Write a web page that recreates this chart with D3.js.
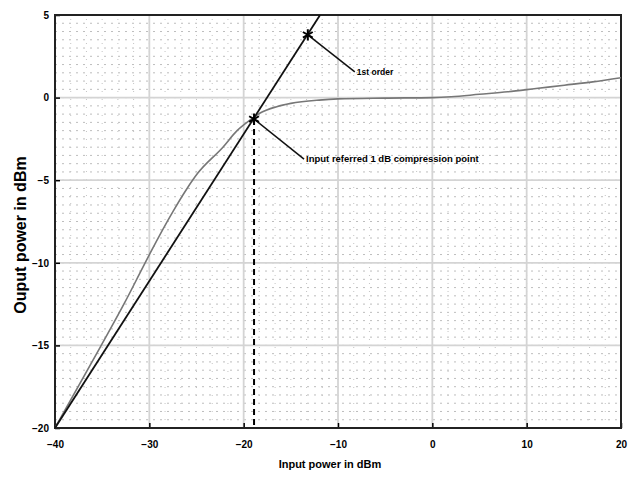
<!DOCTYPE html>
<html lang="en">
<head>
  <meta charset="UTF-8"/>
  <title>1 dB compression point</title>
  <script src="https://d3js.org/d3.v7.min.js"></script>
  <style>
    body { margin: 0; background: #fff; }
    text { font-family: "Liberation Sans", Arial, sans-serif; font-weight: bold; fill: #000; }
  </style>
</head>
<body>
<script>

 var w = 628;
 var h = 478;
 var margin = {left: 55, right: 7, top: 15, bottom: 50};

 // values
 var xTicks = [-40, -30, -20, -10, 0, 10, 20];
 var yTicks = [-20, -15, -10, -5, 0, 5];

 var firstOrderIn  = [-40, -11.9];
 var firstOrderOut = [-20, 5];

 var outputIn  = [-40, -35.2, -32.6, -30.8, -29.9, -27.5, -26, -24.9, -22.2, -20.7, -19.3, -18.3, -16.5, -15, -12, -10, -5, 0, 2, 5, 8, 11, 14, 17, 20];
 var outputOut = [-20, -15.1, -12.4, -10.4, -9.4, -6.9, -5.5, -4.6, -3.0, -2.0, -1.35, -0.95, -0.55, -0.35, -0.15, -0.08, -0.03, 0, 0.05, 0.2, 0.35, 0.55, 0.75, 0.95, 1.2];

 var compIn = -18.9, compOut = -1.3;
 var firstIn = -13.2, firstOut = 3.8;

 var x = d3.scaleLinear().domain([-40, 20]).range([margin.left, w - margin.right]);
 var y = d3.scaleLinear().domain([-20, 5]).range([h - margin.bottom, margin.top]);

 var svg = d3.select("body")
             .append("svg")
             .attr("width", w)
             .attr("height", h);

 // dotted minor grid (speckled texture in the reference)
 var minorX = d3.range(-40, 20.01, 5 / 3);
 var minorY = d3.range(-20, 5.01, 0.5);

 svg.append("g")
    .selectAll("line")
    .data(minorY)
    .enter()
    .append("line")
    .attr("x1", x(-40)).attr("x2", x(20))
    .attr("y1", function(d) { return y(d); })
    .attr("y2", function(d) { return y(d); })
    .style("stroke", "#bdbdbd")
    .style("stroke-width", 1)
    .style("stroke-dasharray", "2,5");

 svg.append("g")
    .selectAll("line")
    .data(minorX)
    .enter()
    .append("line")
    .attr("y1", y(-20)).attr("y2", y(5))
    .attr("x1", function(d) { return x(d); })
    .attr("x2", function(d) { return x(d); })
    .style("stroke", "#c4c4c4")
    .style("stroke-width", 1)
    .style("stroke-dasharray", "1,7");

 // major grid
 svg.append("g")
    .selectAll("line")
    .data(xTicks)
    .enter()
    .append("line")
    .attr("y1", y(-20)).attr("y2", y(5))
    .attr("x1", function(d) { return x(d); })
    .attr("x2", function(d) { return x(d); })
    .style("stroke", "#d4d4d4")
    .style("stroke-width", 1.8);

 svg.append("g")
    .selectAll("line")
    .data(yTicks)
    .enter()
    .append("line")
    .attr("x1", x(-40)).attr("x2", x(20))
    .attr("y1", function(d) { return y(d); })
    .attr("y2", function(d) { return y(d); })
    .style("stroke", "#d4d4d4")
    .style("stroke-width", 1.8);

 // axes
 var xAxis = d3.axisBottom(x).tickValues(xTicks).tickSize(-5).tickPadding(13)
               .tickFormat(d3.format("d"));
 var yAxis = d3.axisLeft(y).tickValues(yTicks).tickSize(-5).tickPadding(6)
               .tickFormat(d3.format("d"));

 svg.append("g")
    .attr("transform", "translate(0," + y(-20) + ")")
    .call(xAxis)
    .call(function(g) { g.select(".domain").remove(); })
    .selectAll("text").style("font-size", "10px").style("font-weight", "bold");

 svg.append("g")
    .attr("transform", "translate(" + x(-40) + ",0)")
    .call(yAxis)
    .call(function(g) { g.select(".domain").remove(); })
    .selectAll("text").style("font-size", "10px").style("font-weight", "bold");

 svg.selectAll(".tick line").style("stroke", "#000").style("stroke-width", 1.5);

 svg.append("rect")
    .attr("x", x(-40)).attr("y", y(5))
    .attr("width", x(20) - x(-40))
    .attr("height", y(-20) - y(5))
    .style("fill", "none")
    .style("stroke", "#222")
    .style("stroke-width", 2);

 // curves
 var line = d3.line()
              .x(function(d) { return x(d[0]); })
              .y(function(d) { return y(d[1]); })
              .curve(d3.curveMonotoneX);

 svg.append("clipPath").attr("id", "plot")
    .append("rect")
    .attr("x", x(-40)).attr("y", y(5))
    .attr("width", x(20) - x(-40))
    .attr("height", y(-20) - y(5));

 svg.append("path")
    .attr("d", line(d3.zip(outputIn, outputOut)))
    .attr("clip-path", "url(#plot)")
    .style("fill", "none")
    .style("stroke", "#777")
    .style("stroke-width", 1.6);

 svg.append("path")
    .attr("d", line(d3.zip(firstOrderIn, firstOrderOut)))
    .attr("clip-path", "url(#plot)")
    .style("fill", "none")
    .style("stroke", "#111")
    .style("stroke-width", 1.8);

 // dashed drop line at the compression point
 svg.append("line")
    .attr("x1", x(compIn)).attr("x2", x(compIn))
    .attr("y1", y(compOut)).attr("y2", y(-20))
    .style("stroke", "#000")
    .style("stroke-width", 2)
    .style("stroke-dasharray", "6,4");

 // markers and annotations
 var notes = [
   {px: firstIn, py: firstOut, dx: 47, dy: 37, label: "1st order", size: "8.5px"},
   {px: compIn, py: compOut, dx: 50, dy: 40, label: "Input referred 1 dB compression point", size: "9.5px"}
 ];

 var star = d3.symbol().type(d3.symbolAsterisk).size(90);

 notes.forEach(function(n) {
   var cx = x(n.px), cy = y(n.py);
   svg.append("line")
      .attr("x1", cx).attr("y1", cy)
      .attr("x2", cx + n.dx).attr("y2", cy + n.dy)
      .style("stroke", "#111")
      .style("stroke-width", 1.5);
   svg.append("path")
      .attr("d", star())
      .attr("transform", "translate(" + cx + "," + cy + ")")
      .style("fill", "none")
      .style("stroke", "#000")
      .style("stroke-width", 2);
   svg.append("text")
      .attr("x", cx + n.dx + 2)
      .attr("y", cy + n.dy + 3)
      .style("font-size", n.size)
      .text(n.label);
 });

 // axis titles
 svg.append("text")
    .attr("x", 330)
    .attr("y", 468)
    .attr("text-anchor", "middle")
    .style("font-size", "11px")
    .text("Input power in dBm");

 svg.append("text")
    .attr("transform", "translate(26,235) rotate(-90)")
    .attr("text-anchor", "middle")
    .style("font-size", "16px")
    .text("Ouput power in dBm");

</script>
</body>
</html>
